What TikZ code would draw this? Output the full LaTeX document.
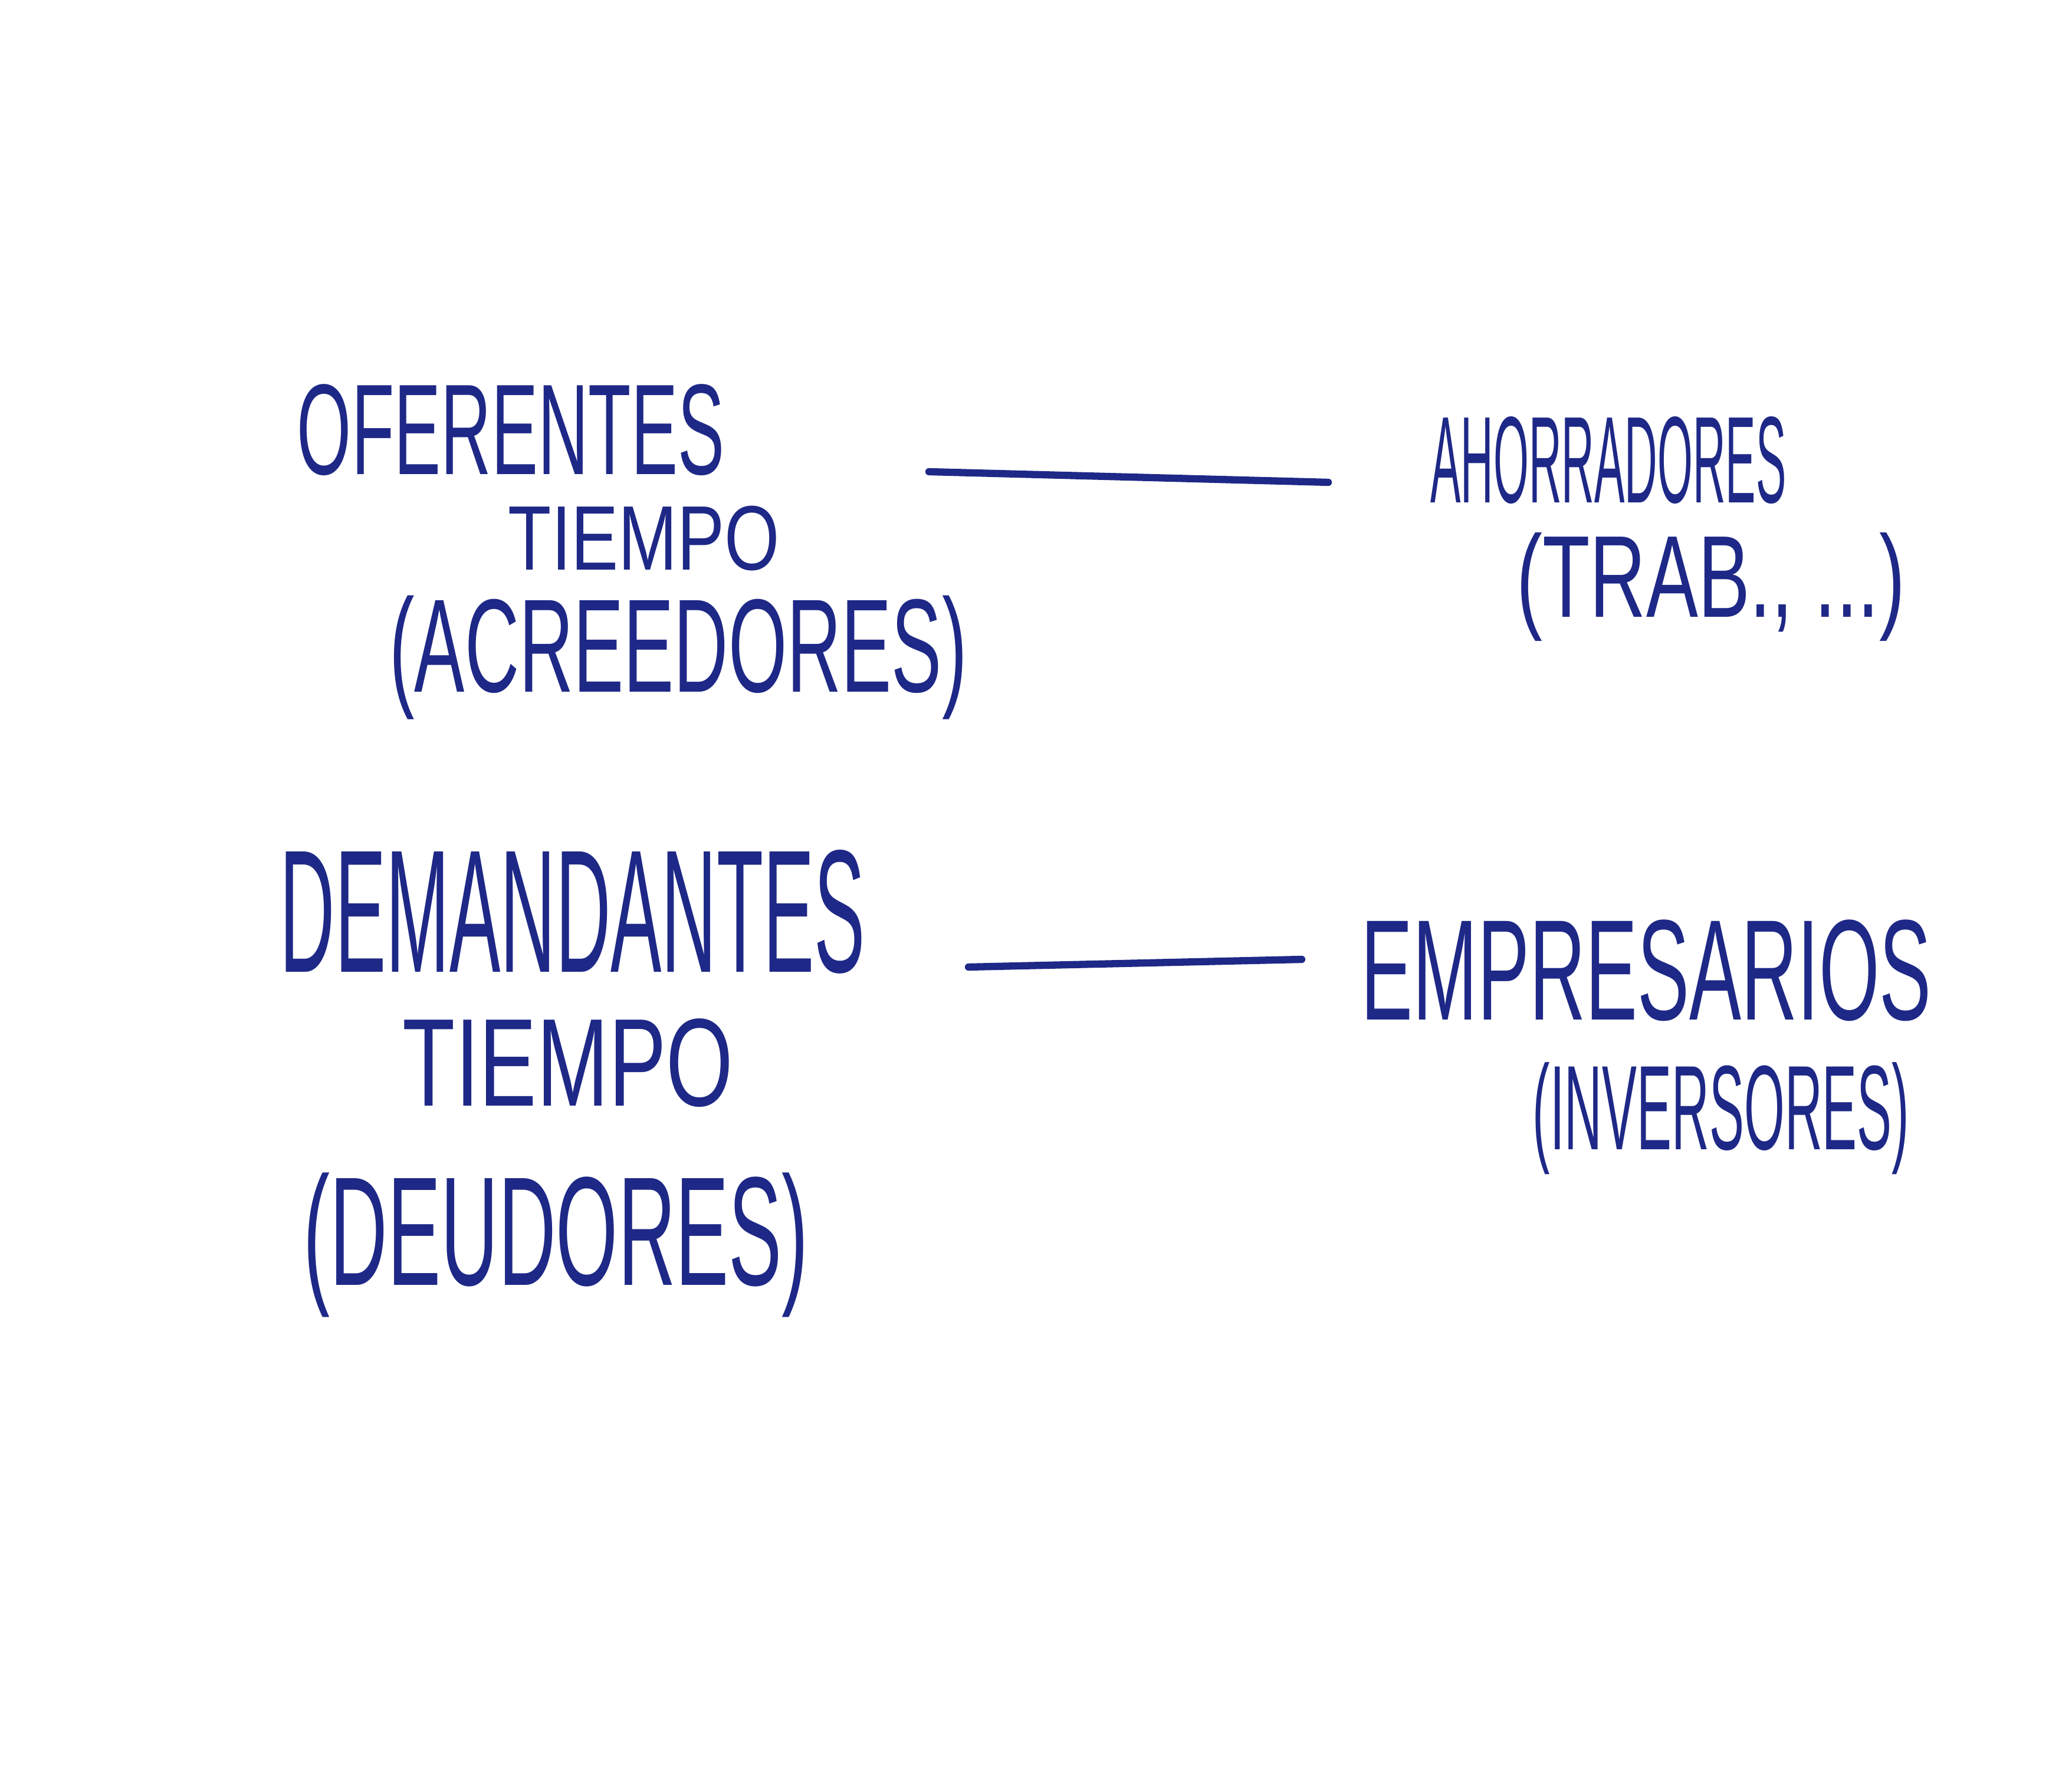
\documentclass[tikz,border=0pt]{standalone}
\usepackage{fontspec}
\setmainfont{Liberation Sans}
\usepackage{graphicx}
\definecolor{hwblue}{RGB}{30,40,135}
\newcommand{\hwtext}[3]{\resizebox*{#1cm}{#2cm}{#3}}
\begin{document}
\begin{tikzpicture}[
  hw/.style={inner sep=0pt, text=hwblue},
  link/.style={draw=hwblue, line width=3.5pt, line cap=round}
]
\useasboundingbox (0,0) rectangle (35.13,29.99);
\fill[white] (0,0) rectangle (35.13,29.99);

\node[hw] (ofer) at (8.66,22.70) {\hwtext{7.24}{1.55}{OFERENTES}};
\node[hw] (tiempoA) at (10.92,20.86) {\hwtext{4.60}{1.10}{TIEMPO}};
\node[hw] (acree) at (11.50,18.84) {\hwtext{9.79}{2.10}{(ACREEDORES)}};

\node[hw] (ahorr) at (27.27,22.18) {\hwtext{6.03}{1.48}{AHORRADORES}};
\node[hw] (trab) at (29.01,20.04) {\hwtext{6.59}{1.84}{(TRAB., ...)}};

\node[hw] (deman) at (9.71,14.53) {\hwtext{9.92}{2.10}{DEMANDANTES}};
\node[hw] (tiempoB) at (9.63,11.96) {\hwtext{5.60}{1.50}{TIEMPO}};
\node[hw] (deud) at (9.43,8.88) {\hwtext{8.56}{2.45}{(DEUDORES)}};

\node[hw] (empr) at (27.91,13.53) {\hwtext{9.67}{1.72}{EMPRESARIOS}};
\node[hw] (inver) at (29.18,11.02) {\hwtext{6.38}{1.90}{(INVERSORES)}};

\coordinate (l1a) at (15.75,21.99);
\coordinate (l1b) at (22.52,21.81);
\coordinate (l2a) at (16.42,13.59);
\coordinate (l2b) at (22.07,13.72);
\draw[link] (l1a) -- (l1b);
\draw[link] (l2a) -- (l2b);
\end{tikzpicture}
\end{document}
